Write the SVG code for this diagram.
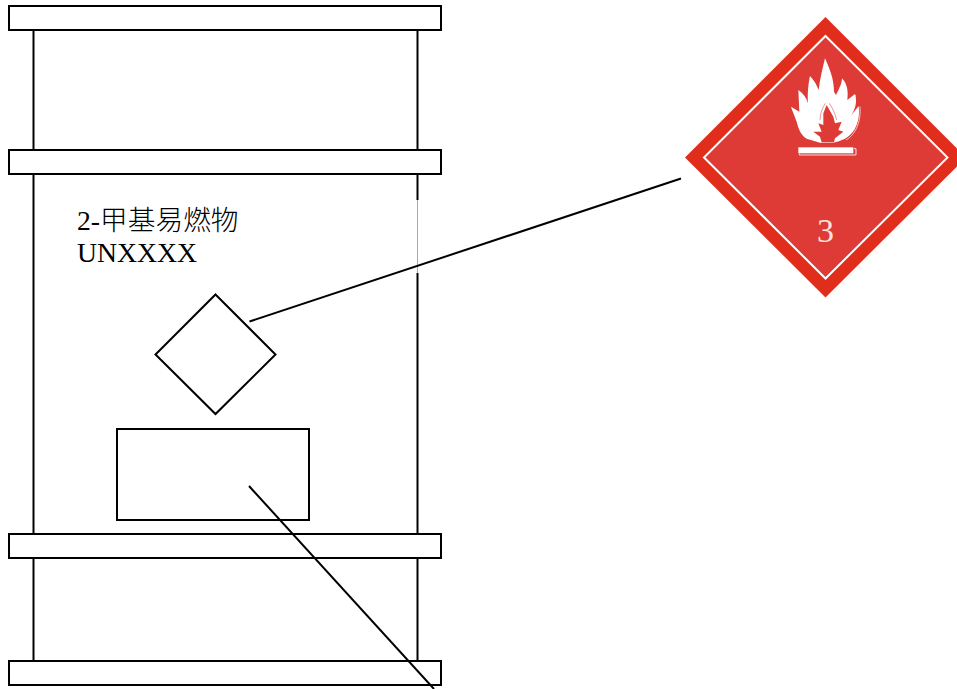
<svg xmlns="http://www.w3.org/2000/svg" width="957" height="689" viewBox="0 0 957 689">
<style>
.k{fill:none;stroke:#000;stroke-width:2}
.t{font-family:"Liberation Serif","Noto Sans CJK SC",serif;font-size:27.7px;fill:#000}
.c{font-family:"Noto Sans CJK SC",sans-serif;font-weight:300}
</style>
<rect width="957" height="689" fill="#fff"/>
<g id="drum">
<path class="k" d="M33.500 30V150M417.500 30V150M33.500 174V534M417.500 174V200M417.500 273V534M33.500 558V661M417.500 558V661"/>
<path d="M417.500 200V273" fill="none" stroke="#a8a8a8" stroke-width="1"/>
<rect class="k" x="9" y="6" width="432" height="24"/>
<rect class="k" x="9" y="150" width="432" height="24"/>
<rect class="k" x="9" y="534" width="432" height="24"/>
<rect class="k" x="9" y="661" width="432" height="24"/>
</g>
<g id="drum-label">
<text class="t" x="77" y="230">2-<tspan class="c">甲基易燃物</tspan></text>
<text class="t" x="77" y="262">UNXXXX</text>
</g>
<g id="label-diamond"><path class="k" d="M215.500 294.500L275.500 354.500L215.500 414L155.500 354.500Z"/></g>
<g id="label-rect"><rect class="k" x="117" y="429" width="192" height="91"/></g>
<g id="connectors">
<path class="k" d="M249.500 321.500L681 178.500"/>
<path class="k" d="M249 486L434 689"/>
</g>
<g id="hazard-placard">
<path d="M825.500 17L966 157.500L825.500 297.500L685 157.500Z" fill="#e02d1c"/>
<path d="M825.500 36L947.500 157.500L825.500 278.500L704 157.500Z" fill="#de3b36" stroke="#fff" stroke-width="2"/>
<g transform="translate(770 40) scale(.3333)">
<path d="M165 55C178 85 192 115 192 155L198 165C206 150 216 130 216 115C230 130 236 150 232 180L255 162C264 190 252 215 242 228L266 198C272 240 256 280 225 296C213 302 200 306 190 308L150 308L110 296C92 285 85 265 80 245C74 228 68 215 63 200L88 215L85 150C100 160 110 175 114 190C112 160 115 130 120 108C132 120 140 135 146 150C150 115 158 85 165 55Z" fill="#fff"/>
<path d="M270 200C274 242 258 284 228 300M234 184L258 166" fill="none" stroke="#fff" stroke-width="2"/>
<path d="M170 195L190 230L195 250L215 245L205 270L220 275L195 295L192 307L155 307L150 290L130 275L155 275L145 250L160 255L160 220Z" fill="#de3b36"/>
<path d="M166 190C158 202 150 220 150 240M178 190C188 205 196 222 200 240" fill="none" stroke="#de3b36" stroke-width="2" opacity=".8"/>
<rect x="85" y="322" width="165" height="18" fill="#fff"/>
<path d="M88 341V345H258V326H252" fill="none" stroke="#fff" stroke-width="2.500"/>
</g>
<text x="825.500" y="242" text-anchor="middle" font-family="'Liberation Serif',serif" font-size="34" fill="#fbe3df">3</text>
</g>
</svg>
